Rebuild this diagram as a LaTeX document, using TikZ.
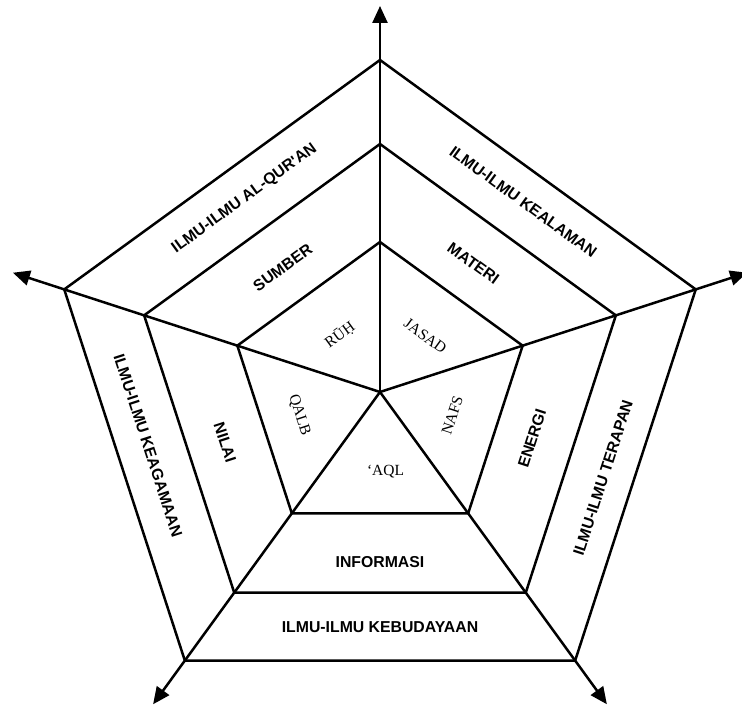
\documentclass[tikz,border=0pt]{standalone}
\usepackage{fontspec}
\setmainfont{Liberation Serif}
\newfontfamily\bandfont{Liberation Sans}
\usetikzlibrary{arrows.meta}

\begin{document}
\begin{tikzpicture}[x=1pt, y=1pt, line width=2.5pt,
    band/.style={font=\bandfont\bfseries\fontsize{15.8}{18}\selectfont},
    core/.style={font=\fontsize{15.5}{18}\selectfont}]
    \useasboundingbox (-380,-319) rectangle (362,392);
    \coordinate (O) at (0,0);
    \foreach \i in {1,...,5} {
        \coordinate (in\i) at (162-72*\i:150);
        \coordinate (mid\i) at (162-72*\i:248);
        \coordinate (out\i) at (162-72*\i:332);
        \coordinate (tip\i) at (162-72*\i:386);
    }
    % three pentagons
    \draw (in1) -- (in2) -- (in3) -- (in4) -- (in5) -- cycle;
    \draw (mid1) -- (mid2) -- (mid3) -- (mid4) -- (mid5) -- cycle;
    \draw (out1) -- (out2) -- (out3) -- (out4) -- (out5) -- cycle;
    % axes
    \foreach \i in {1,...,5}
        \draw[-{Triangle[length=17pt, width=15pt]}] (O) -- (tip\i);
    % outer band
    \node[band, rotate=36] (quran) at (125:236) {ILMU-ILMU AL-QUR'AN};
    \node[band, rotate=-36] (alam) at (53:238) {ILMU-ILMU KEALAMAN};
    \node[band, rotate=72] (terapan) at (-21:239) {ILMU-ILMU TERAPAN};
    \node[band] (budaya) at (-90:235) {ILMU-ILMU KEBUDAYAAN};
    \node[band, rotate=-72] (agama) at (193:238) {ILMU-ILMU KEAGAMAAN};
    % middle band
    \node[band, rotate=36] (sumber) at (128:158) {SUMBER};
    \node[band, rotate=-36] (materi) at (54:159) {MATERI};
    \node[band, rotate=72] (energi) at (-17:159) {ENERGI};
    \node[band] (informasi) at (-90:170) {INFORMASI};
    \node[band, rotate=-72] (nilai) at (198:163) {NILAI};
    % core
    \node[core, rotate=36] (ruh) at (125:70) {RŪḤ};
    \node[core, rotate=-36] (jasad) at (51:72) {JASAD};
    \node[core, rotate=72] (nafs) at (-18:76) {NAFS};
    \node[core] (aql) at (-86:80) {`AQL};
    \node[core, rotate=-72] (qalb) at (196:84) {QALB};
\end{tikzpicture}
\end{document}
